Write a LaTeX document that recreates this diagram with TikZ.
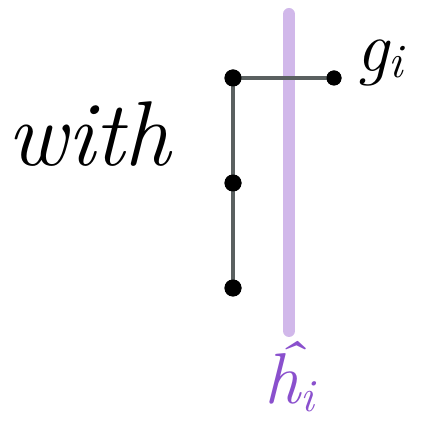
\documentclass[tikz,border=0pt]{standalone}
\usepackage{fontspec}
\begin{document}
\begin{tikzpicture}[x=1pt,y=-1pt,
  dot/.style={circle,fill=black,inner sep=0pt,minimum size=17pt},
  conn/.style={draw=conngray,line width=3.6pt},
  lav/.style={draw=lavline,line width=12pt,line cap=round},
  lbl/.style={font=\fontsize{72}{72}\selectfont\itshape,anchor=base west,inner sep=0pt}]
\definecolor{lavline}{RGB}{209,184,234}
\definecolor{hpurple}{RGB}{138,80,205}
\definecolor{conngray}{RGB}{90,96,96}
\useasboundingbox (0,0) rectangle (432,427);
\coordinate (ltop) at (289,14);
\coordinate (lbot) at (289,331);
\draw[lav] (ltop) -- (lbot);
\node[dot] (a) at (233,78) {};
\node[dot] (b) at (233,183) {};
\node[dot] (c) at (233,288) {};
\node[dot,minimum size=15pt] (d) at (334,78) {};
\draw[conn] (a.center) -- (c.center);
\draw[conn] (a.center) -- (d.center);
\node[dot] at (233,78) {};
\node[dot] at (233,183) {};
\node[dot] at (233,288) {};
\node[dot,minimum size=15pt] at (334,78) {};
\node[font=\fontsize{92}{92}\selectfont\itshape,anchor=base west] (w) at (4,166) {with};
\node[lbl] (g) at (356,72) {g\raisebox{-6pt}{\fontsize{48}{48}\selectfont i}};
\node[lbl,text=hpurple] (h) at (264,404) {\^{h}\raisebox{-8pt}{\fontsize{46}{46}\selectfont i}};
\end{tikzpicture}
\end{document}
